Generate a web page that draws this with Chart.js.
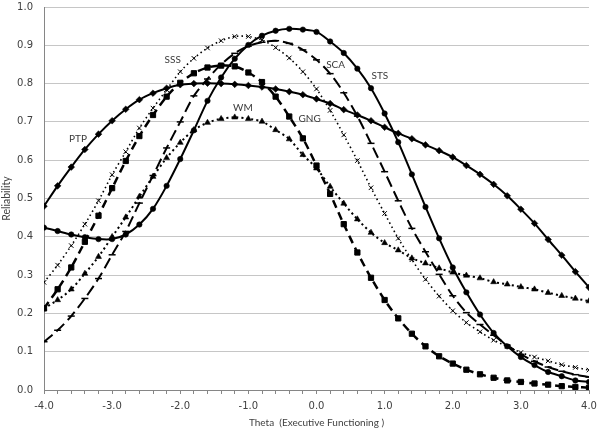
<!DOCTYPE html>
<html>
<head>
<meta charset="utf-8">
<script src="https://cdn.jsdelivr.net/npm/chart.js@4.4.1/dist/chart.umd.min.js"></script>
<style>
  html, body { margin: 0; padding: 0; background: #ffffff; }
  #wrap { width: 600px; height: 436px; position: relative; }
</style>
</head>
<body>
<div id="wrap"><canvas id="chart"></canvas></div>
<script>
// theta grid (x axis points)
const theta = [-4.0, -3.8, -3.6, -3.4, -3.2, -3.0, -2.8, -2.6, -2.4, -2.2,
               -2.0, -1.8, -1.6, -1.4, -1.2, -1.0, -0.8, -0.6, -0.4, -0.2,
                0.0,  0.2,  0.4,  0.6,  0.8,  1.0,  1.2,  1.4,  1.6,  1.8,
                2.0,  2.2,  2.4,  2.6,  2.8,  3.0,  3.2,  3.4,  3.6,  3.8, 4.0];

// reliability per subtest
const ptp = [0.480, 0.533, 0.582, 0.628, 0.668, 0.703, 0.733, 0.758, 0.775, 0.788,
             0.797, 0.800, 0.801, 0.800, 0.798, 0.795, 0.791, 0.786, 0.779, 0.771,
             0.760, 0.748, 0.732, 0.718, 0.703, 0.686, 0.670, 0.656, 0.640, 0.625,
             0.608, 0.586, 0.563, 0.537, 0.507, 0.472, 0.435, 0.393, 0.352, 0.309, 0.268];
const sts = [0.424, 0.415, 0.406, 0.399, 0.394, 0.394, 0.406, 0.432, 0.473, 0.533,
             0.603, 0.678, 0.755, 0.816, 0.865, 0.901, 0.925, 0.938, 0.943, 0.941,
             0.935, 0.910, 0.880, 0.839, 0.788, 0.722, 0.647, 0.563, 0.478, 0.396,
             0.320, 0.255, 0.197, 0.149, 0.114, 0.086, 0.065, 0.047, 0.036, 0.025, 0.021];
const sss = [0.281, 0.326, 0.377, 0.433, 0.494, 0.562, 0.622, 0.684, 0.736, 0.784,
             0.831, 0.866, 0.893, 0.912, 0.923, 0.923, 0.914, 0.894, 0.867, 0.831,
             0.786, 0.730, 0.666, 0.599, 0.528, 0.461, 0.396, 0.340, 0.289, 0.245,
             0.207, 0.176, 0.152, 0.130, 0.114, 0.098, 0.086, 0.076, 0.066, 0.059, 0.052];
const sca = [0.126, 0.156, 0.193, 0.239, 0.291, 0.353, 0.414, 0.488, 0.560, 0.632,
             0.700, 0.768, 0.812, 0.850, 0.879, 0.898, 0.908, 0.912, 0.905, 0.888,
             0.862, 0.826, 0.776, 0.715, 0.644, 0.570, 0.494, 0.422, 0.361, 0.302,
             0.246, 0.202, 0.171, 0.143, 0.117, 0.093, 0.075, 0.060, 0.049, 0.040, 0.034];
const gng = [0.213, 0.263, 0.320, 0.387, 0.455, 0.527, 0.598, 0.663, 0.718, 0.766,
             0.802, 0.827, 0.842, 0.847, 0.845, 0.829, 0.804, 0.766, 0.714, 0.657,
             0.586, 0.512, 0.433, 0.359, 0.293, 0.235, 0.187, 0.147, 0.114, 0.088,
             0.069, 0.053, 0.041, 0.032, 0.025, 0.021, 0.017, 0.014, 0.010, 0.008, 0.006];
const wm  = [0.213, 0.235, 0.263, 0.304, 0.348, 0.400, 0.451, 0.505, 0.557, 0.606,
             0.646, 0.679, 0.698, 0.708, 0.712, 0.708, 0.701, 0.679, 0.655, 0.614,
             0.579, 0.531, 0.487, 0.446, 0.411, 0.384, 0.365, 0.344, 0.331, 0.318,
             0.307, 0.299, 0.292, 0.282, 0.276, 0.269, 0.263, 0.254, 0.246, 0.239, 0.232];

// curve labels placed in data coordinates
const curveLabels = [
    { text: 'PTP', x: -3.50, y: 0.656 },
    { text: 'SSS', x: -2.11, y: 0.862 },
    { text: 'WM',  x: -1.08, y: 0.737 },
    { text: 'GNG', x: -0.10, y: 0.708 },
    { text: 'SCA', x:  0.28, y: 0.849 },
    { text: 'STS', x:  0.93, y: 0.820 }
];

const toPoints = vals => vals.map((v, i) => ({ x: theta[i], y: v }));

function series(label, vals, opts) {
    return Object.assign({
        label: label,
        data: toPoints(vals),
        borderColor: '#000000',
        backgroundColor: '#000000',
        pointBorderColor: '#000000',
        pointBackgroundColor: '#000000',
        pointBorderWidth: 0.6,
        borderWidth: 2,
        tension: 0.3,
        fill: false
    }, opts);
}

const curveLabelPlugin = {
    id: 'curveLabels',
    afterDatasetsDraw(chart) {
        const ctx = chart.ctx;
        const xs = chart.scales.x, ys = chart.scales.y;
        ctx.save();
        ctx.font = '10px Lato, "Open Sans", sans-serif';
        ctx.fillStyle = '#3a3a3a';
        ctx.textAlign = 'center';
        ctx.textBaseline = 'middle';
        curveLabels.forEach(l => {
            ctx.fillText(l.text, xs.getPixelForValue(l.x), ys.getPixelForValue(l.y));
        });
        ctx.restore();
    }
};

const tickFont = { family: '"DejaVu Sans", Verdana, sans-serif', size: 10 };

new Chart(document.getElementById('chart'), {
    type: 'line',
    data: {
        datasets: [
            series('PTP', ptp, { pointStyle: 'rectRot', pointRadius: 3.3 }),
            series('STS', sts, { pointStyle: 'circle', pointRadius: 2.7 }),
            series('SSS', sss, { borderDash: [1.5, 3], borderWidth: 1.6, pointStyle: 'crossRot',
                                 pointRadius: 3.2, pointBorderWidth: 1 }),
            series('SCA', sca, { borderDash: [11, 5], borderWidth: 2, pointStyle: 'line',
                                 pointRadius: 3.5, pointBorderWidth: 1.5 }),
            series('GNG', gng, { borderDash: [8, 5], borderWidth: 2.5, pointStyle: 'rect',
                                 pointRadius: 3.7, pointBorderWidth: 1 }),
            series('WM', wm, { borderDash: [2, 3], borderWidth: 2, pointStyle: 'triangle',
                               pointRadius: 3.4 })
        ]
    },
    options: {
        responsive: true,
        maintainAspectRatio: false,
        animation: false,
        layout: { padding: { left: 0, right: 11, top: 7, bottom: 0 } },
        plugins: {
            legend: { display: false },
            tooltip: { enabled: false }
        },
        scales: {
            x: {
                type: 'linear',
                min: -4,
                max: 4,
                afterFit: s => {
                    s.height = 46;
                    s.paddingLeft = 0;
                    s.paddingRight = 0;
                },
                afterBuildTicks: s => {
                    s.ticks = theta.map(v => ({ value: v }));
                },
                ticks: {
                    autoSkip: false,
                    maxRotation: 0,
                    color: '#404040',
                    font: tickFont,
                    padding: 6,
                    callback: v => Math.abs(v - Math.round(v)) < 1e-6 ? v.toFixed(1) : ''
                },
                grid: {
                    drawOnChartArea: false,
                    drawTicks: true,
                    tickLength: 4,
                    color: '#868686'
                },
                border: { display: true, color: '#868686', width: 1 },
                title: {
                    display: true,
                    text: 'Theta  (Executive Functioning )',
                    color: '#404040',
                    font: { family: 'Lato, "Open Sans", sans-serif', size: 10 },
                    padding: { top: 2, bottom: 7 }
                }
            },
            y: {
                min: 0,
                max: 1,
                afterFit: s => {
                    s.width = 44;
                    s.paddingTop = 0;
                    s.paddingBottom = 0;
                },
                ticks: {
                    stepSize: 0.1,
                    color: '#404040',
                    font: tickFont,
                    padding: 11,
                    callback: v => v.toFixed(1)
                },
                grid: {
                    color: '#c6c6c6',
                    drawTicks: false
                },
                border: { display: true, color: '#868686', width: 1 },
                title: {
                    display: true,
                    text: 'Reliability',
                    color: '#404040',
                    font: { family: 'Lato, "Open Sans", sans-serif', size: 10.5 },
                    padding: { top: 0, bottom: 2 }
                }
            }
        }
    },
    plugins: [curveLabelPlugin]
});
</script>
</body>
</html>
